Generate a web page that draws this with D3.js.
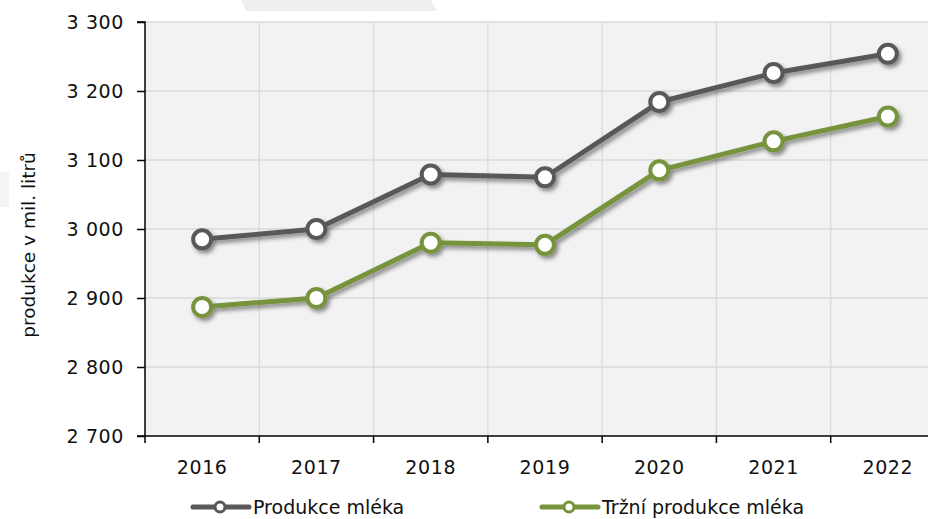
<!DOCTYPE html>
<html><head><meta charset="utf-8">
<script src="https://cdn.jsdelivr.net/npm/d3@7"></script>
<style>
body{margin:0;background:#fff;}
svg text{font-family:"DejaVu Sans",sans-serif;fill:#111;}
</style></head>
<body><svg id="c" width="928" height="519"></svg>
<script>
const years = ["2016","2017","2018","2019","2020","2021","2022"];
const produkce = [2985, 3000, 3079, 3075, 3184, 3226, 3254];
const trzni = [2887, 2900, 2980, 2977, 3085, 3127, 3163];
const yTicks = [2700, 2800, 2900, 3000, 3100, 3200, 3300];
const seriesNames = ["Produkce mléka", "Tržní produkce mléka"];
const yLabel = "produkce v mil. litrů";

const svg = d3.select("#c");
const m = {l:145, t:22, b:436, r:945};
const x = d3.scaleBand().domain(years).range([m.l, m.r]).padding(0);
const y = d3.scaleLinear().domain([2700, 3300]).range([m.b, m.t]);
const colors = ["#595959", "#77933c"];

const defs = svg.append("defs");
const f = defs.append("filter").attr("id","sh").attr("x","-20%").attr("y","-20%").attr("width","150%").attr("height","150%");
f.append("feDropShadow").attr("dx",2.5).attr("dy",3).attr("stdDeviation",2).attr("flood-color","#000").attr("flood-opacity",0.45);

// faint background decorations
svg.append("polygon").attr("points","241,0 431,0 437,11 246,11").attr("fill","#efefef");
svg.append("polygon").attr("points","0,172 9,172 9,207 0,207").attr("fill","#f4f4f4");

// plot background
svg.append("rect").attr("x",m.l).attr("y",m.t).attr("width",m.r-m.l).attr("height",m.b-m.t).attr("fill","#f2f2f2");

// grid
const fmt = d => d3.format(",")(d).replace(/,/g, " ");
svg.append("g").selectAll("line").data(yTicks.slice(1)).join("line")
  .attr("x1",m.l).attr("x2",m.r).attr("y1",d=>y(d)).attr("y2",d=>y(d))
  .attr("stroke","#dadada").attr("stroke-width",1.3);
const bounds = years.map(d=>x(d)).slice(1);
svg.append("g").selectAll("line").data(bounds).join("line")
  .attr("x1",d=>d).attr("x2",d=>d).attr("y1",m.t).attr("y2",m.b)
  .attr("stroke","#dadada").attr("stroke-width",1.3);

// axes
const yAxis = d3.axisLeft(y).tickValues(yTicks).tickFormat(fmt).tickSize(8).tickPadding(13);
const gy = svg.append("g").attr("transform",`translate(${m.l},0)`).call(yAxis);
gy.select(".domain").attr("stroke","#000").attr("stroke-width",1.5).attr("d",`M-8,${m.t}H0V${m.b}H-8`);
gy.selectAll(".tick line").attr("stroke","#000").attr("stroke-width",1.5);
gy.selectAll(".tick text").attr("font-size",19).attr("font-family","DejaVu Sans").attr("letter-spacing","0.6px").attr("fill","#111");

const gx = svg.append("g").attr("transform",`translate(0,${m.b})`);
gx.append("line").attr("x1",m.l).attr("x2",m.r).attr("stroke","#000").attr("stroke-width",1.5);
gx.selectAll("line.t").data([m.l].concat(bounds)).join("line").attr("class","t")
  .attr("x1",d=>d).attr("x2",d=>d).attr("y1",0).attr("y2",7).attr("stroke","#000").attr("stroke-width",1.5);
gx.selectAll("text").data(years).join("text")
  .attr("x",d=>x(d)+x.bandwidth()/2).attr("y",38).attr("text-anchor","middle")
  .attr("font-size",19).attr("letter-spacing","0.6px").text(d=>d);

// y label
svg.append("text").attr("transform",`translate(35,245) rotate(-90)`).attr("text-anchor","middle")
  .attr("font-size",18.5).text(yLabel);

// series
const cx = d => x(d) + x.bandwidth()/2;
[produkce, trzni].forEach((vals, i) => {
  const data = years.map((d,j)=>({d, v:vals[j]}));
  const g = svg.append("g").attr("filter","url(#sh)");
  g.append("path").datum(data)
    .attr("d", d3.line().x(p=>cx(p.d)).y(p=>y(p.v)))
    .attr("fill","none").attr("stroke",colors[i]).attr("stroke-width",5).attr("stroke-linejoin","round");
  g.selectAll("circle").data(data).join("circle")
    .attr("cx",p=>cx(p.d)).attr("cy",p=>y(p.v)).attr("r",9)
    .attr("fill","#fff").attr("stroke",colors[i]).attr("stroke-width",4);
});

// legend
const legX = [193, 542];
seriesNames.forEach((n,i)=>{
  const g = svg.append("g").attr("transform",`translate(${legX[i]},507)`);
  g.append("line").attr("x1",0).attr("x2",56).attr("y1",0).attr("y2",0).attr("stroke",colors[i]).attr("stroke-width",5).attr("stroke-linecap","round");
  g.append("circle").attr("cx",27).attr("cy",0).attr("r",5).attr("fill","#fff").attr("stroke",colors[i]).attr("stroke-width",3);
  g.append("text").attr("x",60).attr("y",6.5).attr("font-size",19).text(n);
});
</script></body></html>
